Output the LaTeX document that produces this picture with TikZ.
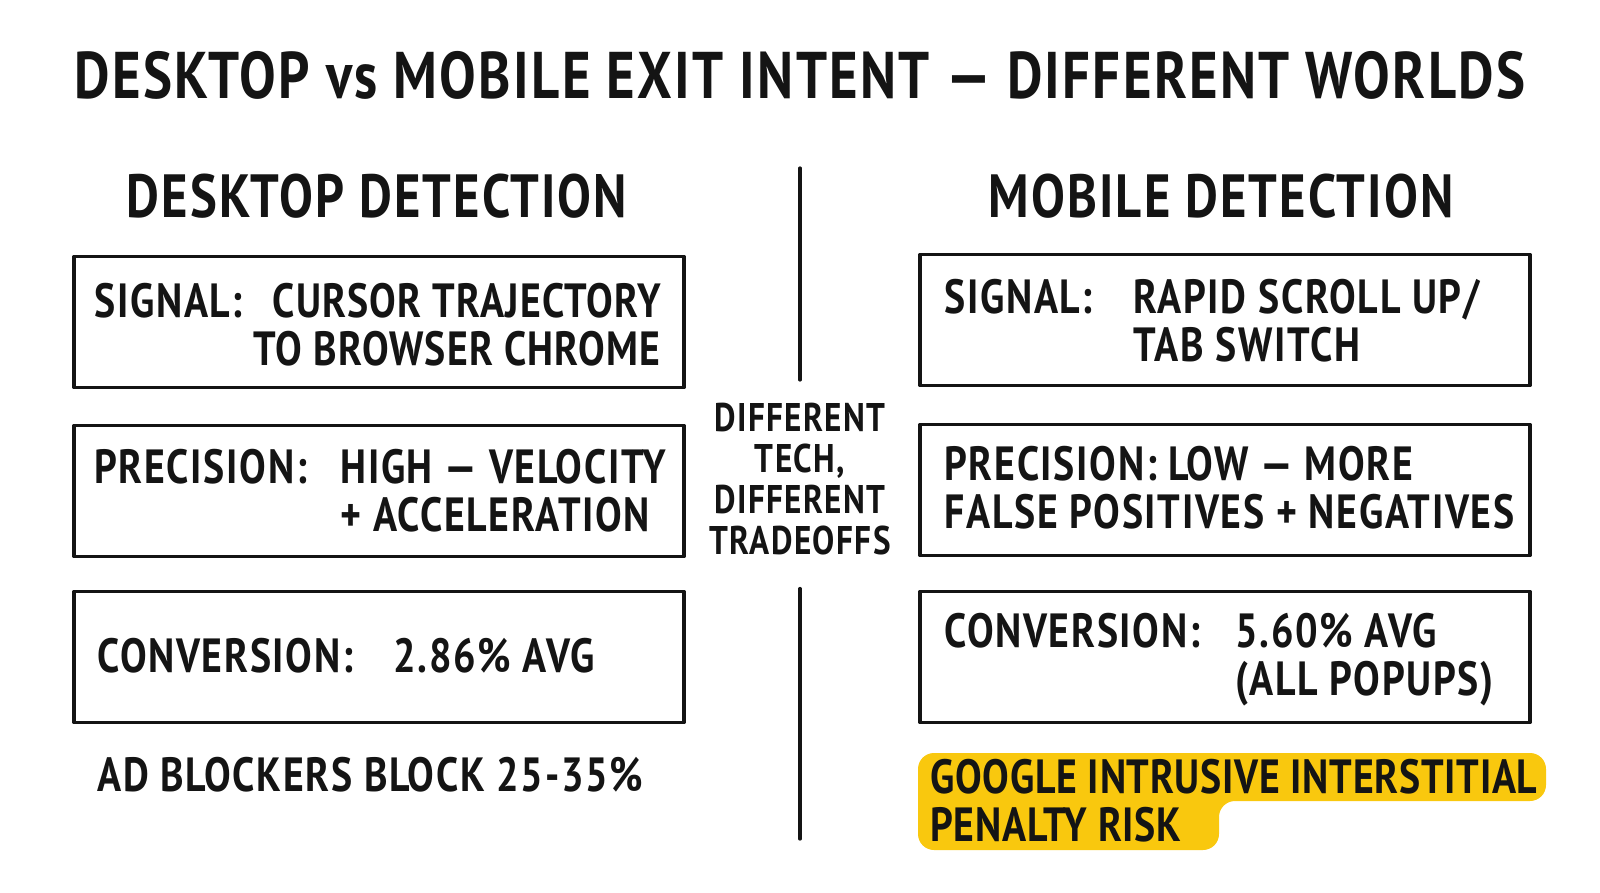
\documentclass[tikz,border=0pt]{standalone}
\usepackage{fontspec}
\setmainfont[FakeStretch=0.83, LetterSpace=3.5]{PT Sans}
\definecolor{ink}{HTML}{141414}
\definecolor{marker}{HTML}{F9C80E}

\begin{document}
\begin{tikzpicture}[x=0.5pt, y=-0.5pt,
    sketchbox/.style={draw=ink, line width=1.9pt, line join=round, minimum width=305pt, minimum height=65.5pt, inner sep=0pt},
    boxtext/.style={font=\fontsize{24}{24}\selectfont\bfseries, text=ink, inner sep=0pt, align=left, anchor=north west, execute at begin node=\strut},
    headtext/.style={font=\fontsize{30.5}{30.5}\selectfont\bfseries, text=ink, inner sep=0pt, anchor=north, execute at begin node=\strut}]
  \useasboundingbox (0,0) rectangle (1600,893);
  % title and column heads
  \node[headtext, font=\fontsize{33}{33}\selectfont\bfseries] (title) at (800,51) {DESKTOP vs MOBILE EXIT INTENT — DIFFERENT WORLDS};
  \node[headtext] (deskhead) at (377,174) {DESKTOP DETECTION};
  \node[headtext] (mobhead) at (1221,174) {MOBILE DETECTION};
  % boxes
  \foreach \n/\x/\y in {l1/379/322, l2/379/491, l3/379/657, r1/1225/320, r2/1225/490, r3/1225/657}
    \node[sketchbox] (\n) at (\x,\y) {};
  % desktop side
  \node[boxtext] (l1lab) at (94,283) {SIGNAL:};
  \node[boxtext, align=right, anchor=north east, font=\fontsize{24}{24}\selectfont\bfseries\addfontfeature{LetterSpace=2.5}] (l1val) at (661,283) {CURSOR TRAJECTORY\\TO BROWSER CHROME};
  \node[boxtext] (l2lab) at (94,449) {PRECISION:};
  \node[boxtext] (l2val) at (340,449) {HIGH — VELOCITY\\+ ACCELERATION};
  \node[boxtext] (l3lab) at (97,638) {CONVERSION:};
  \node[boxtext] (l3val) at (393,638) {2.86\% AVG};
  \node[boxtext] (adblock) at (97,757) {AD BLOCKERS BLOCK 25-35\%};
  % mobile side
  \node[boxtext] (r1lab) at (944,279) {SIGNAL:};
  \node[boxtext] (r1val) at (1133,279) {RAPID SCROLL UP/\\TAB SWITCH};
  \node[boxtext] (r2txt) at (944,446) {PRECISION: LOW — MORE\\FALSE POSITIVES + NEGATIVES};
  \node[boxtext] (r3lab) at (944,613) {CONVERSION:};
  \node[boxtext] (r3val) at (1235,613) {5.60\% AVG\\(ALL POPUPS)};
  \fill[marker, rounded corners=8pt] (918,753) -- (1546,753) -- (1546,801) -- (1219,801) -- (1219,850) -- (918,850) -- cycle;
  \node[boxtext, font=\fontsize{24}{24}\selectfont\bfseries\addfontfeature{LetterSpace=1.5}] (penalty) at (930,759) {GOOGLE INTRUSIVE INTERSTITIAL\\PENALTY RISK};
  % divider
  \node[boxtext, font=\fontsize{20}{20.5}\selectfont\bfseries, align=center, anchor=north] (mid) at (800,403) {DIFFERENT\\TECH,\\DIFFERENT\\TRADEOFFS};
  \coordinate (divtop) at (800,168);
  \coordinate (divbot) at (800,839);
  \draw[ink, line width=1.6pt, line cap=round] (divtop) -- ([yshift=11.5pt]mid.north);
  \draw[ink, line width=1.6pt, line cap=round] ([yshift=-10.5pt]mid.south) -- (divbot);
\end{tikzpicture}
\end{document}
